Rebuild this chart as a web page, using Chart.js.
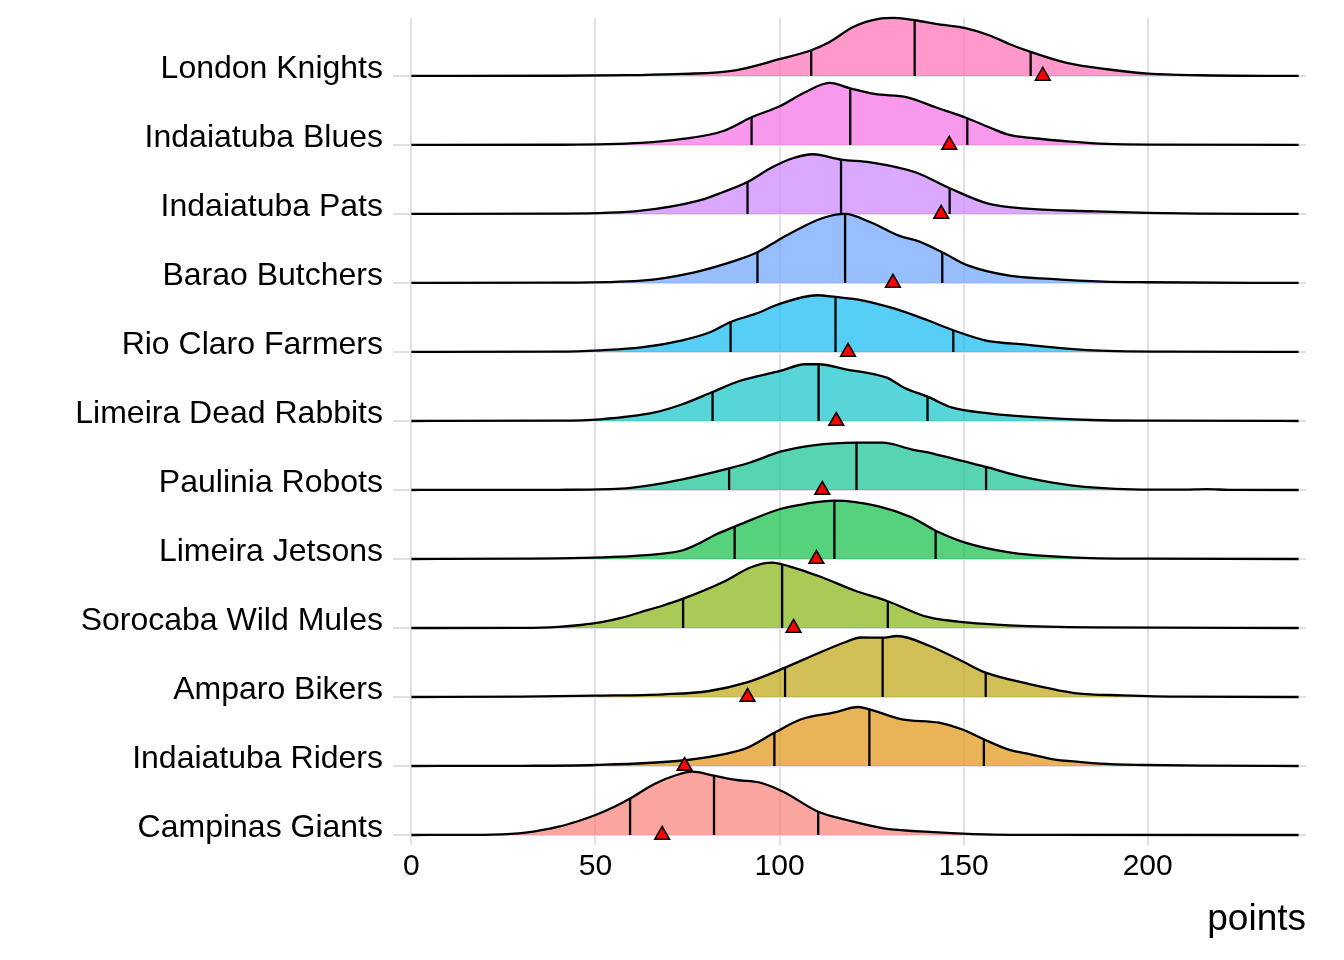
<!DOCTYPE html>
<html>
<head>
<meta charset="utf-8">
<script src="https://cdn.jsdelivr.net/npm/chart.js@4.4.1/dist/chart.umd.min.js"></script>
<style>
  html, body { margin: 0; padding: 0; background: #fff; }
  #wrap { width: 1344px; height: 960px; }
</style>
</head>
<body>
<div id="wrap"><canvas id="ridges" width="1344" height="960"></canvas></div>
<script>
// teams, bottom row first
const teams = ['Campinas Giants', 'Indaiatuba Riders', 'Amparo Bikers', 'Sorocaba Wild Mules',
  'Limeira Jetsons', 'Paulinia Robots', 'Limeira Dead Rabbits', 'Rio Claro Farmers',
  'Barao Butchers', 'Indaiatuba Pats', 'Indaiatuba Blues', 'London Knights'];

const xTicks = [0, 50, 100, 150, 200];

// density curves: [points, relative density]
const campinasCurve = [[0,0],[15,0.1],[22,0.3],[31,2.3],[40,8.3],[45,13.5],[50,20],[55,28],[59.4,36.5],[66,51],[72,60],[76.2,63.3],[82.2,59.3],[88.4,55],[94.6,52.5],[101,43.3],[110.5,23.3],[118.3,15],[128.3,6.7],[143.3,2.7],[155.7,0.7],[170,0.2],[241,0]];
const ridersCurve = [[0,0],[30,0.2],[49.8,1],[72.2,5],[84.7,11.7],[90.9,17.7],[98.6,33.3],[105.9,46.7],[114.6,53.3],[121.4,59],[124.4,56.7],[133.3,46.7],[143.3,43.3],[149.5,36.7],[155.5,26.7],[162,16.7],[168.2,11.7],[174.4,6.7],[180.7,4.3],[187,2.3],[199.4,1],[215,0.3],[241,0]];
const amparoCurve = [[0,0],[30,0.3],[49.8,1.3],[68.5,2.7],[80.9,6],[90.9,14.3],[101.5,29.3],[110.8,44.3],[118,55],[122,59.5],[128,59.3],[132,61],[140.8,51],[149.5,36],[156,24.3],[168.2,12.7],[180.7,3.7],[193.1,1.7],[210,0.3],[241,0]];
const sorocabaCurve = [[0,0],[30,0.2],[40,1.2],[46,3],[51.3,5.5],[57,10],[62.4,16],[68,22],[73.8,29.3],[84.7,46],[92.4,61],[98,65.3],[100.7,63.7],[111.3,51],[120.2,37.7],[129.4,26.7],[140.2,11],[151.3,5.3],[162.4,2.7],[184.7,0.7],[241,0]];
const jetsonsCurve = [[0,0],[30,0.3],[56.9,2.3],[70,6],[74,9],[78.4,16],[83,25],[87.8,32.3],[100.2,50],[106.9,55],[114.9,58.3],[126.9,52.7],[135.8,41.7],[142.4,28.3],[150.2,16.7],[162.4,6.7],[179.1,1.7],[200,0.3],[241,0]];
const pauliniaCurve = [[0,0],[40.2,0.2],[56.9,1.3],[64.7,4.7],[73.6,10.7],[86.3,21.7],[92.4,28],[100.2,38.3],[109.1,44.7],[120.9,47.3],[128,47.3],[135.8,40.7],[142.4,35.7],[156.1,23],[165.8,13.3],[179.1,4.7],[195.8,0.7],[210,0.3],[216,0.8],[222,0.2],[241,0]];
const deadRabbitsCurve = [[0,0],[40.2,0.3],[51.3,1.7],[65.8,8.3],[73.6,16.7],[81.8,29],[89.1,40],[100.2,50],[106.9,56.7],[110.6,56.7],[118,51.7],[129.1,43.3],[134,33],[140.2,24.3],[146.9,13.3],[156.9,7.7],[166.9,4.3],[184.7,1],[200,0.3],[241,0]];
const rioClaroCurve = [[0,0],[40,0.3],[51.3,1.7],[62.4,4.5],[73.6,11.7],[81.3,20],[86.7,30],[93.6,38.3],[100.2,48.3],[110.2,56.7],[115.2,55],[122.4,51.7],[131.3,43.3],[140.2,31.7],[147.2,21.7],[155.8,11.7],[166.9,7.3],[178,3.3],[189,1],[205,0.3],[241,0]];
const baraoCurve = [[0,0],[40,0.3],[62.4,2.3],[76.9,10.7],[88,22.3],[94,30.7],[100.2,44],[106.9,57.3],[112.4,65.7],[117.8,69],[124.7,60.7],[132.4,47.3],[138,41.3],[144.2,30.7],[151.3,17.3],[162.4,7.3],[173.6,4],[188,1.3],[200,0.7],[241,0]];
const patsCurve = [[0,0],[40.2,0.3],[62.4,3.3],[78,13.3],[84.7,22],[91.3,32],[98,46.7],[103.6,55.7],[109.1,59.7],[116.7,54.3],[124.7,51.7],[136.9,41.7],[146.2,25.7],[156.9,10],[168,5],[184.7,2.7],[200,1],[214,0.3],[241,0]];
const bluesCurve = [[0,0],[40,0.2],[62.4,2],[73.6,6],[84.7,14],[92.4,27.7],[100.2,39],[106.9,52.7],[113.6,62],[119.2,56.7],[125.8,51],[134.7,47.7],[142.4,37.7],[151,26.7],[156.9,17.7],[162.4,10],[169.1,6.7],[179.1,3.3],[189,1],[200,0.3],[241,0]];
const londonCurve = [[0,0],[40.2,0.2],[60,0.8],[73.6,2],[88,5.7],[100.2,17],[108.6,25.7],[113.6,34],[120,49],[126.9,57],[131.3,58],[136.7,55.7],[142.4,52],[150.2,48],[156.9,40.7],[162.4,32],[168.2,24],[178,13],[189,6.7],[200.2,2.3],[214,0.7],[241,0]];

const curves = [campinasCurve, ridersCurve, amparoCurve, sorocabaCurve, jetsonsCurve, pauliniaCurve,
  deadRabbitsCurve, rioClaroCurve, baraoCurve, patsCurve, bluesCurve, londonCurve];

// quartile positions and the curve height there
const q1 = [59.4, 98.6, 101.5, 73.8, 87.8, 86.3, 81.8, 86.7, 94, 91.3, 92.4, 108.6];
const q1H = [36.5, 33.3, 29.3, 29.3, 32.3, 21.7, 29, 30, 30.7, 32, 27.7, 25.7];
const median = [82.2, 124.4, 128, 100.7, 114.9, 120.9, 110.6, 115.2, 117.8, 116.7, 119.2, 136.7];
const medianH = [59.3, 56.7, 59.3, 63.7, 58.3, 47.3, 56.7, 55, 69, 54.3, 56.7, 55.7];
const q3 = [110.5, 155.5, 156, 129.4, 142.4, 156.1, 140.2, 147.2, 144.2, 146.2, 151, 168.2];
const q3H = [23.3, 26.7, 24.3, 26.7, 28.3, 23, 24.3, 21.7, 30.7, 25.7, 26.7, 24];

// red triangle marker per team
const marker = [68.1, 74.2, 91.3, 103.8, 110, 111.6, 115.4, 118.6, 130.8, 143.9, 146.1, 171.5];

const colors = ['#F8766D', '#DE8C00', '#B79F00', '#7CAE00', '#00BA38', '#00C08B',
  '#00BFC4', '#00B4F0', '#619CFF', '#C77CFF', '#F564E3', '#FF64B0'];

const heightScale = 1 / 69;   // ridge height relative to row spacing
const FONT = '"Liberation Sans", Arial, Helvetica, sans-serif';
const GRID = '#e0e0e0';

function alpha(hex, a) {
  const n = parseInt(hex.slice(1), 16);
  return `rgba(${n >> 16},${(n >> 8) & 255},${n & 255},${a})`;
}

const datasets = [];
curves.forEach((curve, i) => {
  datasets.push({
    data: curve.map(([x, h]) => ({ x: x, y: i + h * heightScale })),
    borderColor: '#000',
    borderWidth: 2.3,
    backgroundColor: alpha(colors[i], 0.66),
    fill: { value: i },
    pointRadius: 0,
    cubicInterpolationMode: 'monotone',
    clip: false,
    order: 11 + 2 * i
  });
  const segs = [];
  [[q1[i], q1H[i]], [median[i], medianH[i]], [q3[i], q3H[i]]].forEach(([x, h]) => {
    segs.push({ x: x, y: i }, { x: x, y: i + h * heightScale }, { x: x, y: null });
  });
  datasets.push({
    data: segs,
    borderColor: '#000',
    borderWidth: 2.3,
    pointRadius: 0,
    tension: 0,
    fill: false,
    spanGaps: false,
    clip: false,
    order: 10 + 2 * i
  });
});

datasets.push({
  data: marker.map((x, i) => ({ x: x, y: i })),
  showLine: false,
  pointStyle: 'triangle',
  pointRadius: 8.5,
  backgroundColor: '#ff0000',
  borderColor: '#000',
  borderWidth: 1.6,
  clip: false,
  order: 0
});

new Chart(document.getElementById('ridges'), {
  type: 'line',
  data: { datasets: datasets },
  options: {
    responsive: false,
    animation: false,
    devicePixelRatio: 1,
    layout: { padding: { top: 18, right: 38, left: 0, bottom: 0 } },
    plugins: { legend: { display: false }, tooltip: { enabled: false } },
    scales: {
      x: {
        type: 'linear',
        min: -5,
        max: 243,
        afterBuildTicks: (s) => { s.ticks = xTicks.map(v => ({ value: v })); },
        afterFit: (s) => { s.height = 115; s.paddingLeft = 0; s.paddingRight = 0; },
        grid: { color: GRID, lineWidth: 2, drawTicks: false },
        border: { display: false },
        ticks: { color: '#000', padding: 4, font: { family: FONT, size: 30 } },
        title: {
          display: true, text: 'points', align: 'end', color: '#000',
          font: { family: FONT, size: 37 }, padding: { top: 0, bottom: 18 }
        }
      },
      y: {
        type: 'linear',
        min: -0.145,
        max: 11.84,
        afterBuildTicks: (s) => { s.ticks = teams.map((t, i) => ({ value: i })); },
        afterFit: (s) => { s.width = 393; s.paddingTop = 0; s.paddingBottom = 0; },
        grid: { color: GRID, lineWidth: 2, drawTicks: false },
        border: { display: false },
        ticks: {
          color: '#000', padding: 10, labelOffset: -7,
          font: { family: FONT, size: 32 },
          callback: (v) => teams[v]
        }
      }
    }
  }
});
</script>
</body>
</html>
